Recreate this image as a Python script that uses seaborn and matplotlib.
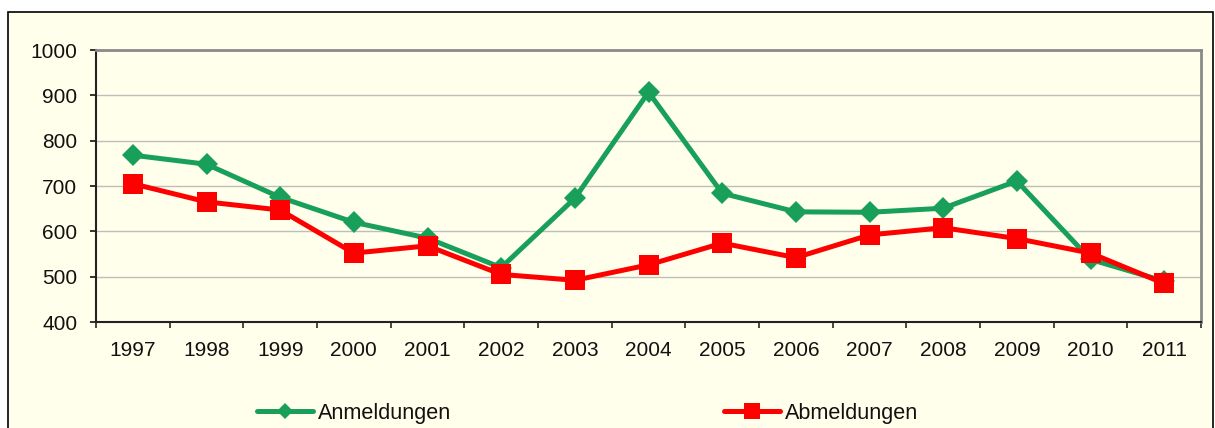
import numpy as np
import pandas as pd
import matplotlib
matplotlib.use("Agg")
import matplotlib.pyplot as plt
import matplotlib.patches as mpatches
import seaborn as sns

# ── Data ─────────────────────────────────────────────────────────────
YEARS = [1997, 1998, 1999, 2000, 2001, 2002, 2003, 2004,
         2005, 2006, 2007, 2008, 2009, 2010, 2011]
ANMELDUNGEN = [768, 748, 675, 620, 585, 520, 673, 907,
               684, 643, 642, 651, 711, 538, 490]
ABMELDUNGEN = [705, 665, 647, 552, 568, 505, 492, 526,
               574, 542, 592, 608, 584, 552, 485]
Y_TICKS = [400, 500, 600, 700, 800, 900, 1000]

# ── Style ────────────────────────────────────────────────────────────
BG = "#FFFFEB"
GREEN = "#18A05A"
RED = "#FF0000"
W, H = 1215, 428

sns.set_style("ticks")
plt.rcParams["font.family"] = ["Liberation Sans", "DejaVu Sans"]

df = pd.DataFrame({"Jahr": YEARS, "Anmeldungen": ANMELDUNGEN,
                   "Abmeldungen": ABMELDUNGEN})

fig = plt.figure(figsize=(W / 100, H / 100), dpi=100, facecolor="white")

# outer chart frame (cut off at the bottom like the original)
frame = mpatches.Rectangle((8 / W, -0.05), (1213 - 8) / W, (H - 12) / H + 0.05,
                           transform=fig.transFigure, facecolor=BG,
                           edgecolor="black", linewidth=1.2, zorder=-10)
fig.patches.append(frame)

ax = fig.add_axes([96 / W, (H - 322) / H, (1201 - 96) / W, 272 / H])
ax.set_facecolor(BG)
ax.set_zorder(1)

sns.lineplot(data=df, x="Jahr", y="Anmeldungen", ax=ax, color=GREEN,
             linewidth=3.6, marker="D", markersize=11, markeredgewidth=0,
             label="Anmeldungen")
sns.lineplot(data=df, x="Jahr", y="Abmeldungen", ax=ax, color=RED,
             linewidth=3.6, marker="s", markersize=14.5, markeredgewidth=0,
             label="Abmeldungen")

ax.set_xlim(YEARS[0] - 0.5, YEARS[-1] + 0.5)
ax.set_ylim(Y_TICKS[0], Y_TICKS[-1])
ax.set_yticks(Y_TICKS)
ax.set_xticks([y - 0.5 for y in YEARS] + [YEARS[-1] + 0.5])
ax.set_xticklabels([])
ax.set_xticks(YEARS, minor=True)
ax.set_xticklabels([str(y) for y in YEARS], minor=True)
ax.set_xlabel("")
ax.set_ylabel("")

ax.tick_params(axis="y", length=4.5, width=1.2, pad=9, labelsize=15,
               colors="#111111")
ax.tick_params(axis="x", which="major", length=4.5, width=1.2)
ax.tick_params(axis="x", which="minor", length=0, pad=14, labelsize=15,
               labelcolor="#111111")

ax.grid(axis="y", color="#BDBDBD", linewidth=1)
ax.set_axisbelow(True)
for side in ("left", "bottom"):
    ax.spines[side].set_color("#222222")
    ax.spines[side].set_linewidth(1.5)
for side in ("top", "right"):
    ax.spines[side].set_visible(True)
    ax.spines[side].set_color("#8A8A8A")
    ax.spines[side].set_linewidth(2)

handles, labels = ax.get_legend_handles_labels()
ax.get_legend().remove()
leg = fig.legend(handles, labels, loc="center left",
                 bbox_to_anchor=(257 / W, (H - 413) / H), ncol=2,
                 frameon=False, fontsize=15.6, handlelength=2.58,
                 handletextpad=0.23, columnspacing=12.6, borderpad=0,
                 borderaxespad=0, labelcolor="#111111")
leg.legend_handles[0].set_markersize(8)
leg.legend_handles[1].set_markersize(11)

fig.savefig("out.png", dpi=100, facecolor="white")
